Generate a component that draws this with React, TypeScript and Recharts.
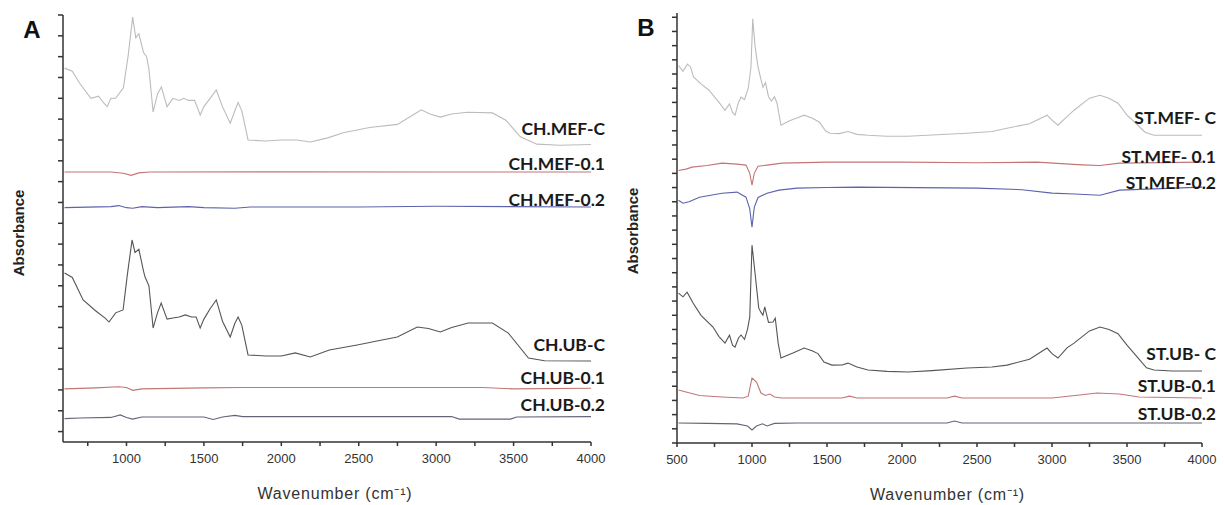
import { LineChart, Line, XAxis, YAxis, ReferenceDot } from "recharts";

// ---- panel A (chitosan) ----
const chMefCWn = [600, 650, 700, 770, 820, 850, 875, 900, 930, 980, 1010, 1040, 1060, 1080, 1110, 1130, 1145, 1172, 1200, 1225, 1262, 1300, 1340, 1370, 1400, 1440, 1476, 1500, 1540, 1580, 1620, 1670, 1700, 1721, 1745, 1785, 1900, 2000, 2100, 2187, 2300, 2400, 2570, 2750, 2850, 2904, 2960, 3027, 3100, 3200, 3363, 3450, 3544, 3650, 3800, 4000];
const chMefCAbs = [17.45, 17.3, 16.7, 16.0, 16.1, 15.8, 15.6, 16.0, 16.0, 16.5, 18.0, 19.9, 18.9, 19.1, 18.2, 18.0, 17.4, 15.35, 16.2, 16.55, 15.6, 16.0, 15.9, 16.0, 15.9, 15.9, 15.2, 15.6, 16.0, 16.4, 15.6, 14.8, 15.4, 15.8, 15.4, 14.0, 13.95, 14.0, 14.0, 13.9, 14.1, 14.35, 14.6, 14.75, 15.2, 15.45, 15.25, 15.1, 15.25, 15.33, 15.3, 14.95, 14.15, 13.8, 13.75, 13.78];

const chMef01Wn = [600, 900, 980, 1030, 1080, 1150, 2000, 3000, 4000];
const chMef01Abs = [12.46, 12.46, 12.4, 12.3, 12.42, 12.46, 12.47, 12.46, 12.46];

const chMef02Wn = [600, 900, 950, 1000, 1040, 1100, 1200, 1400, 1500, 1700, 1800, 2500, 3000, 4000];
const chMef02Abs = [10.75, 10.8, 10.85, 10.75, 10.72, 10.8, 10.75, 10.8, 10.75, 10.72, 10.78, 10.78, 10.82, 10.78];

const chUbCWn = [600, 650, 720, 800, 862, 887, 930, 978, 1005, 1036, 1055, 1080, 1110, 1120, 1145, 1172, 1200, 1224, 1262, 1300, 1340, 1380, 1420, 1450, 1476, 1500, 1540, 1580, 1620, 1670, 1700, 1721, 1745, 1785, 1900, 2000, 2090, 2187, 2310, 2490, 2650, 2749, 2878, 2950, 3027, 3100, 3207, 3363, 3466, 3596, 3700, 4000];
const chUbCAbs = [7.61, 7.4, 6.32, 5.8, 5.45, 5.26, 5.7, 5.84, 7.5, 9.2, 8.6, 8.75, 7.7, 7.42, 7.0, 4.97, 5.7, 6.17, 5.4, 5.45, 5.5, 5.6, 5.5, 5.5, 4.97, 5.4, 5.9, 6.32, 5.3, 4.54, 5.2, 5.5, 5.1, 3.68, 3.63, 3.63, 3.78, 3.58, 3.92, 4.16, 4.4, 4.54, 5.02, 4.95, 4.78, 5.0, 5.21, 5.21, 4.73, 3.53, 3.4, 3.39];

const chUb01Wn = [600, 800, 950, 1000, 1040, 1100, 1500, 1750, 3000, 3300, 3500, 4000];
const chUb01Abs = [2.05, 2.1, 2.15, 2.12, 1.98, 2.05, 2.1, 2.12, 2.12, 2.12, 2.05, 2.08];

const chUb02Wn = [600, 700, 900, 960, 1000, 1040, 1100, 1500, 1560, 1620, 1700, 1750, 2500, 3100, 3150, 3480, 3520, 4000];
const chUb02Abs = [0.62, 0.65, 0.68, 0.8, 0.68, 0.6, 0.7, 0.7, 0.58, 0.7, 0.78, 0.72, 0.72, 0.72, 0.6, 0.6, 0.7, 0.72];

// ---- panel B (starch) ----
const stMefCWn = [510, 540, 570, 590, 610, 660, 713, 780, 820, 850, 870, 887, 910, 927, 950, 975, 993, 1005, 1020, 1040, 1060, 1073, 1090, 1110, 1130, 1150, 1167, 1193, 1250, 1300, 1347, 1400, 1450, 1490, 1520, 1580, 1640, 1700, 1773, 1900, 2040, 2200, 2433, 2600, 2700, 2850, 2967, 3000, 3040, 3100, 3147, 3250, 3320, 3380, 3440, 3500, 3573, 3620, 3680, 3800, 4000];
const stMefCAbs = [26.6, 26.2, 26.7, 26.5, 25.8, 25.3, 24.86, 24.0, 23.45, 23.9, 23.3, 23.1, 24.0, 24.37, 24.2, 25.0, 26.48, 29.9, 28.0, 26.5, 25.6, 25.07, 25.4, 24.4, 24.1, 24.4, 23.94, 22.39, 22.7, 22.9, 23.1, 22.9, 22.6, 22.0, 21.83, 21.8, 21.95, 21.75, 21.69, 21.62, 21.62, 21.7, 21.83, 21.95, 22.18, 22.5, 23.1, 22.75, 22.39, 23.0, 23.45, 24.3, 24.5, 24.3, 23.94, 23.1, 22.39, 21.9, 21.69, 21.69, 21.69];

const stMef01Wn = [510, 560, 600, 700, 800, 900, 960, 985, 1000, 1015, 1040, 1100, 1200, 1500, 2000, 2500, 2900, 3200, 3320, 3450, 4000];
const stMef01Abs = [19.2, 19.3, 19.44, 19.55, 19.72, 19.65, 19.58, 19.0, 18.17, 19.0, 19.5, 19.58, 19.72, 19.79, 19.79, 19.75, 19.79, 19.6, 19.55, 19.72, 19.79];

const stMef02Wn = [510, 540, 580, 650, 800, 900, 960, 985, 1000, 1015, 1040, 1100, 1180, 1300, 1500, 1700, 2500, 2800, 3000, 3150, 3320, 3450, 4000];
const stMef02Abs = [17.11, 16.9, 17.0, 17.32, 17.6, 17.68, 17.32, 16.5, 15.21, 16.6, 17.3, 17.6, 17.82, 17.96, 18.0, 18.03, 17.96, 17.85, 17.61, 17.55, 17.46, 17.82, 18.03];

const stUbCWn = [510, 540, 567, 590, 607, 660, 740, 780, 820, 850, 870, 887, 910, 927, 950, 970, 985, 1000, 1020, 1045, 1060, 1073, 1085, 1110, 1140, 1155, 1175, 1193, 1240, 1273, 1347, 1400, 1440, 1480, 1533, 1600, 1640, 1700, 1773, 1900, 2040, 2200, 2433, 2600, 2700, 2850, 2967, 3000, 3040, 3100, 3147, 3250, 3320, 3380, 3440, 3500, 3573, 3630, 3680, 3800, 4000];
const stUbCAbs = [10.56, 10.3, 10.63, 10.2, 9.86, 9.0, 8.17, 7.5, 7.04, 7.6, 6.9, 6.76, 7.4, 7.61, 7.3, 8.0, 8.87, 13.94, 12.0, 9.5, 9.2, 9.01, 9.6, 8.5, 8.52, 8.8, 7.0, 5.99, 6.2, 6.34, 6.69, 6.5, 6.3, 5.7, 5.49, 5.5, 5.63, 5.35, 5.14, 5.05, 5.0, 5.1, 5.28, 5.35, 5.49, 5.9, 6.69, 6.3, 5.99, 6.7, 7.04, 7.9, 8.17, 8.0, 7.7, 6.9, 6.0, 5.3, 5.14, 5.07, 5.07];

const stUb01Wn = [510, 560, 650, 800, 940, 975, 1000, 1030, 1060, 1090, 1120, 1150, 1200, 1600, 1650, 1700, 2300, 2350, 2400, 3000, 3200, 3300, 3450, 3580, 4000];
const stUb01Abs = [3.73, 3.59, 3.35, 3.24, 3.17, 3.3, 4.58, 4.3, 3.52, 3.35, 3.45, 3.24, 3.17, 3.17, 3.3, 3.17, 3.17, 3.3, 3.17, 3.17, 3.4, 3.52, 3.45, 3.24, 3.17];

const stUb02Wn = [510, 700, 900, 970, 1000, 1030, 1070, 1100, 1150, 1300, 2300, 2350, 2400, 4000];
const stUb02Abs = [1.41, 1.38, 1.35, 1.2, 0.92, 1.2, 1.35, 1.2, 1.38, 1.41, 1.41, 1.55, 1.41, 1.41];

// axis ticks
const leftXTicks = [750, 1000, 1250, 1500, 1750, 2000, 2250, 2500, 2750, 3000, 3250, 3500, 3750, 4000];
const rightXTicks = [500, 750, 1000, 1250, 1500, 1750, 2000, 2250, 2500, 2750, 3000, 3250, 3500, 3750, 4000];
const leftYTicks = [0, 1, 2, 3, 4, 5, 6, 7, 8, 9, 10, 11, 12, 13, 14, 15, 16, 17, 18, 19, 20];
const rightYTicks = [0, 1, 2, 3, 4, 5, 6, 7, 8, 9, 10, 11, 12, 13, 14, 15, 16, 17, 18, 19, 20, 21, 22, 23, 24, 25, 26, 27, 28, 29, 30];

// series names and where their tags sit (absorbance units)
const leftNames = ["CH.MEF-C", "CH.MEF-0.1", "CH.MEF-0.2", "CH.UB-C", "CH.UB-0.1", "CH.UB-0.2"];
const leftNameY = [14.57, 12.89, 11.12, 4.16, 2.62, 1.28];
const rightNames = ["ST.MEF- C", "ST.MEF- 0.1", "ST.MEF-0.2", "ST.UB- C", "ST.UB-0.1", "ST.UB-0.2"];
const rightNameY = [22.96, 20.21, 18.38, 6.34, 4.08, 2.11];

const zip = (wn: number[], ab: number[]) => wn.map((w, i) => ({ wn: w, a: ab[i] }));

const COLORS = {
  mefC: "#bcbcbc",
  ubC: "#555555",
  red: "#c27676",
  blue: "#5c63ad",
  grayBlue: "#646478",
};

const leftSeries = [
  { data: zip(chMefCWn, chMefCAbs), color: COLORS.mefC },
  { data: zip(chMef01Wn, chMef01Abs), color: COLORS.red },
  { data: zip(chMef02Wn, chMef02Abs), color: COLORS.blue },
  { data: zip(chUbCWn, chUbCAbs), color: COLORS.ubC },
  { data: zip(chUb01Wn, chUb01Abs), color: COLORS.red },
  { data: zip(chUb02Wn, chUb02Abs), color: COLORS.grayBlue },
];

const rightSeries = [
  { data: zip(stMefCWn, stMefCAbs), color: COLORS.mefC },
  { data: zip(stMef01Wn, stMef01Abs), color: COLORS.red },
  { data: zip(stMef02Wn, stMef02Abs), color: COLORS.blue },
  { data: zip(stUbCWn, stUbCAbs), color: COLORS.ubC },
  { data: zip(stUb01Wn, stUb01Abs), color: COLORS.red },
  { data: zip(stUb02Wn, stUb02Abs), color: COLORS.grayBlue },
];

const AXIS = "#333";
const FONT = "'Liberation Sans', Arial, sans-serif";

interface PanelProps {
  letter: string;
  width: number;
  margin: { top: number; right: number; bottom: number; left: number };
  xDomain: [number, number];
  xTicks: number[];
  yDomain: [number, number];
  yTicks: number[];
  series: { data: { wn: number; a: number }[]; color: string }[];
  names: string[];
  nameY: number[];
  nameDx: number;
}

const Panel = ({ letter, width, margin, xDomain, xTicks, yDomain, yTicks, series, names, nameY, nameDx }: PanelProps) => (
  <LineChart width={width} height={505} margin={margin}>
    <XAxis
      type="number"
      dataKey="wn"
      domain={xDomain}
      ticks={xTicks}
      allowDataOverflow
      height={30}
      stroke={AXIS}
      strokeWidth={1.5}
      tickSize={4}
      tickMargin={8}
      tickFormatter={(v: number) => (v % 500 === 0 ? String(v) : "")}
      tick={{ fill: "#333", fontSize: 13, fontFamily: FONT }}
      label={(p: any) => {
        const vb = p.viewBox;
        return (
          <text
            x={vb.x + vb.width / 2 + 8}
            y={vb.y + 57}
            textAnchor="middle"
            fill="#333"
            fontSize={16}
            fontFamily={FONT}
            letterSpacing={0.8}
          >
            Wavenumber (cm⁻¹)
          </text>
        );
      }}
    />
    <YAxis
      type="number"
      domain={yDomain}
      ticks={yTicks}
      allowDataOverflow
      width={30}
      stroke={AXIS}
      strokeWidth={1.5}
      tickSize={5}
      tickFormatter={() => ""}
      label={(p: any) => {
        const vb = p.viewBox;
        const cx = vb.x + vb.width - 45;
        const cy = vb.y + 218;
        return (
          <g>
            <text
              x={cx}
              y={cy}
              transform={`rotate(-90, ${cx}, ${cy})`}
              textAnchor="middle"
              dominantBaseline="central"
              fill="#222"
              fontSize={15}
              fontWeight="bold"
              fontFamily={FONT}
            >
              Absorbance
            </text>
            <text
              x={vb.x + vb.width - 31}
              y={vb.y + 14}
              textAnchor="middle"
              dominantBaseline="central"
              fill="#111"
              fontSize={24}
              fontWeight="bold"
              fontFamily={FONT}
            >
              {letter}
            </text>
          </g>
        );
      }}
    />
    {series.map((s, i) => (
      <Line
        key={i}
        data={s.data}
        dataKey="a"
        type="linear"
        stroke={s.color}
        strokeWidth={1.1}
        dot={false}
        activeDot={false}
        isAnimationActive={false}
      />
    ))}
    {names.map((n, i) => (
      <ReferenceDot
        key={n}
        x={xDomain[1]}
        y={nameY[i]}
        r={0}
        fill="none"
        stroke="none"
        ifOverflow="visible"
        label={(p: any) => (
          <text
            x={p.viewBox.x + nameDx}
            y={p.viewBox.y}
            textAnchor="end"
            dominantBaseline="central"
            fill="#1a1a1a"
            fontSize={17.5}
            fontFamily="Lato, 'Open Sans', sans-serif"
            fontWeight="bold"
          >
            {n}
          </text>
        )}
      />
    ))}
  </LineChart>
);

export default function App() {
  return (
    <div style={{ position: "absolute", left: 0, top: 0, width: 1224, height: 505, background: "#fff" }}>
      <div style={{ position: "absolute", left: 0, top: 0 }}>
        <Panel
          letter="A"
          width={620}
          margin={{ top: 15, right: 29, bottom: 33, left: 33 }}
          xDomain={[590, 4000]}
          xTicks={leftXTicks}
          yDomain={[-0.5, 20]}
          yTicks={leftYTicks}
          series={leftSeries}
          names={leftNames}
          nameY={leftNameY}
          nameDx={14}
        />
      </div>
      <div style={{ position: "absolute", left: 612, top: 0 }}>
        <Panel
          letter="B"
          width={612}
          margin={{ top: 13, right: 22, bottom: 32, left: 35 }}
          xDomain={[500, 4000]}
          xTicks={rightXTicks}
          yDomain={[0, 30.3]}
          yTicks={rightYTicks}
          series={rightSeries}
          names={rightNames}
          nameY={rightNameY}
          nameDx={14}
        />
      </div>
    </div>
  );
}
